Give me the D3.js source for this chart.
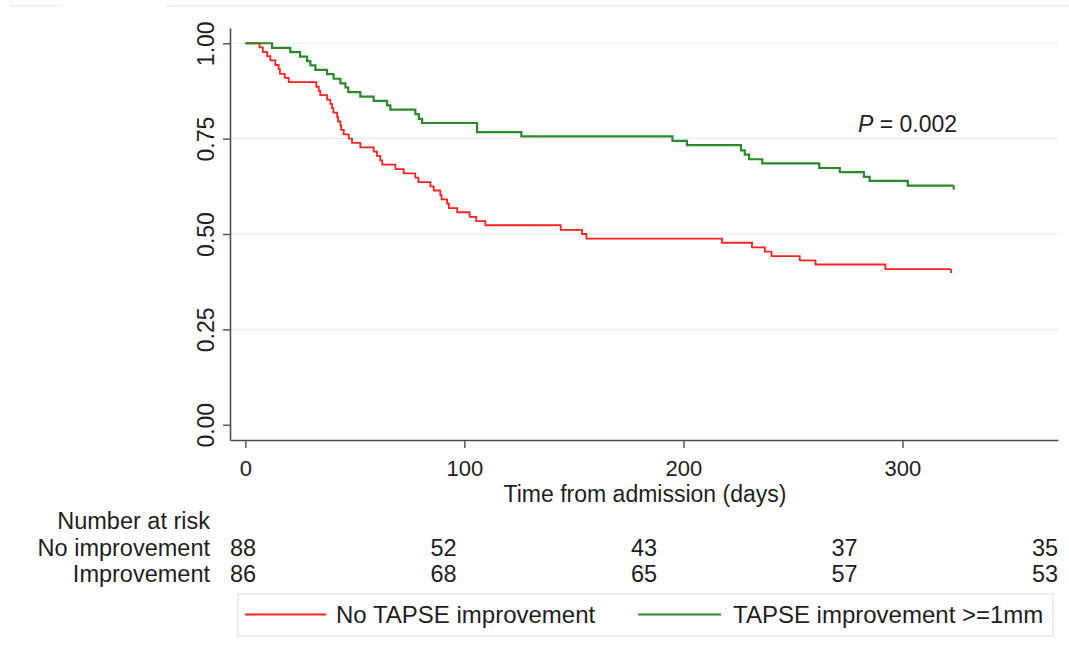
<!DOCTYPE html>
<html>
<head>
<meta charset="utf-8">
<script src="https://cdn.jsdelivr.net/npm/d3@7"></script>
<style>
  html, body { margin: 0; padding: 0; background: #fff; }
  svg { display: block; font-family: "Liberation Sans", Arial, sans-serif; }
</style>
</head>
<body>
<svg id="chart" width="1069" height="657"></svg>
<script>
// Kaplan-Meier step estimates: event times (days) and survival after each event
const noImpTime = [0, 6.5, 8, 10, 11.4, 13.7, 15.2, 15.8, 18, 19.8, 32.4, 33.5, 34.2, 37.3, 38.8, 39.6, 40.2,
  41.9, 42.3, 43.4, 43.8, 44.9, 47.2, 48.7, 52.5, 58.6, 60.1, 61.6, 62.5, 68.5, 72.3, 77.6, 79, 84.5, 86,
  89, 89.6, 92.1, 92.9, 96.7, 102.4, 105.4, 109.6, 144, 153.7, 155.7, 217.6, 231.3, 237.2, 240.2, 253.1,
  260.3, 292.2, 322.2];
const noImpSurv = [1, 0.989, 0.977, 0.966, 0.955, 0.943, 0.932, 0.920, 0.909, 0.898, 0.886, 0.875, 0.864,
  0.852, 0.841, 0.830, 0.818, 0.807, 0.795, 0.784, 0.773, 0.761, 0.750, 0.739, 0.727, 0.716, 0.705, 0.693,
  0.682, 0.670, 0.659, 0.648, 0.636, 0.625, 0.614, 0.602, 0.591, 0.580, 0.568, 0.557, 0.545, 0.534, 0.523,
  0.511, 0.500, 0.488, 0.477, 0.465, 0.454, 0.442, 0.431, 0.420, 0.408, 0.408];

const impTime = [0, 12.2, 20.5, 25, 28.2, 29.7, 32, 37.3, 40.3, 43.4, 45.7, 47, 52.5, 58.6, 64.7, 66.2,
  77.6, 79.2, 80.7, 105.8, 126, 195, 201.6, 226.3, 228, 230, 236, 262, 271.4, 282.4, 285, 302.4, 323.4];
const impSurv = [1, 0.988, 0.977, 0.965, 0.953, 0.942, 0.930, 0.919, 0.907, 0.895, 0.884, 0.872, 0.860,
  0.849, 0.837, 0.826, 0.814, 0.802, 0.791, 0.767, 0.756, 0.744, 0.733, 0.719, 0.708, 0.696, 0.685, 0.673,
  0.662, 0.650, 0.639, 0.627, 0.627];

// Number at risk table
const riskTimes = [0, 90, 180, 270, 360];
const riskNoImp = [88, 52, 43, 37, 35];
const riskImp = [86, 68, 65, 57, 53];
const riskRowLabels = ["No improvement", "Improvement"];

const xTicks = [0, 100, 200, 300];
const yTicks = [0, 0.25, 0.5, 0.75, 1];
const gridTicks = [0.25, 0.5, 0.75, 1];

const seriesNames = ["No TAPSE improvement", "TAPSE improvement >=1mm"];
const seriesColors = ["#ff2020", "#2a8a2a"];

const svg = d3.select("#chart");
const textColor = "#1e1e1e";
const axisColor = "#4d4d4d";
const fontFamily = "Liberation Sans, Arial, sans-serif";

const x = d3.scaleLinear().domain([-7, 371]).range([230, 1058]);
const y = d3.scaleLinear().domain([-0.04, 1.04]).range([440, 28]);

// faint frame lines along the top edge
svg.append("line").attr("x1", 10).attr("x2", 60).attr("y1", 6).attr("y2", 6)
  .attr("stroke", "#e9eff2").attr("stroke-width", 1.5);
svg.append("line").attr("x1", 166).attr("x2", 1069).attr("y1", 6).attr("y2", 6)
  .attr("stroke", "#e9eff2").attr("stroke-width", 1.5);

// horizontal grid
svg.append("g").selectAll("line").data(gridTicks).join("line")
  .attr("x1", x.range()[0]).attr("x2", x.range()[1])
  .attr("y1", d => y(d)).attr("y2", d => y(d))
  .attr("stroke", "#e6eef3").attr("stroke-width", 1.2);

// y axis
const yAxis = svg.append("g").attr("transform", `translate(${x.range()[0]},0)`)
  .call(d3.axisLeft(y).tickValues(yTicks).tickFormat(d3.format(".2f")).tickSize(7).tickSizeOuter(0).tickPadding(0));
yAxis.select(".domain").attr("stroke", axisColor).attr("stroke-width", 1.6);
yAxis.selectAll(".tick line").attr("stroke", axisColor).attr("stroke-width", 1.4);
yAxis.selectAll(".tick text")
  .attr("x", 0).attr("y", 0).attr("dy", null)
  .attr("transform", "translate(-16,0) rotate(-90)")
  .attr("text-anchor", "middle")
  .attr("font-size", 23).attr("fill", textColor)
  .attr("font-family", fontFamily);

// x axis
const xAxis = svg.append("g").attr("transform", `translate(0,${y.range()[0]})`)
  .call(d3.axisBottom(x).tickValues(xTicks).tickFormat(d3.format("d")).tickSize(8).tickSizeOuter(0).tickPadding(12));
xAxis.select(".domain").attr("stroke", axisColor).attr("stroke-width", 1.6);
xAxis.selectAll(".tick line").attr("stroke", axisColor).attr("stroke-width", 1.4);
xAxis.selectAll(".tick text").attr("font-size", 22).attr("fill", textColor)
  .attr("font-family", fontFamily);

svg.append("text").attr("x", 645).attr("y", 502).attr("text-anchor", "middle")
  .attr("font-size", 23).attr("fill", textColor).text("Time from admission (days)");

// survival curves
const line = d3.line().x(d => x(d[0])).y(d => y(d[1])).curve(d3.curveStepAfter);
const curves = [
  d3.zip(noImpTime, noImpSurv),
  d3.zip(impTime, impSurv)
];
curves.forEach((pts, i) => {
  svg.append("path").datum(pts).attr("d", line)
    .attr("fill", "none").attr("stroke", seriesColors[i])
    .attr("stroke-width", i === 0 ? 1.8 : 2.2);
  // censoring tick at the end of follow-up
  const last = pts[pts.length - 1];
  svg.append("line")
    .attr("x1", x(last[0])).attr("x2", x(last[0]))
    .attr("y1", y(last[1])).attr("y2", y(last[1]) + 4)
    .attr("stroke", seriesColors[i]).attr("stroke-width", i === 0 ? 1.8 : 2.2);
});

// p-value annotation
const pText = svg.append("text").attr("x", 858).attr("y", 132)
  .attr("font-size", 23).attr("fill", textColor);
pText.append("tspan").attr("font-style", "italic").text("P");
pText.append("tspan").text(" = 0.002");

// number at risk table
const riskX = d3.scalePoint().domain(riskTimes).range([243, 1045]);
svg.append("text").attr("x", 210).attr("y", 529).attr("text-anchor", "end")
  .attr("font-size", 23.5).attr("fill", textColor).text("Number at risk");
[riskNoImp, riskImp].forEach((row, r) => {
  const by = 556 + r * 26;
  svg.append("text").attr("x", 210).attr("y", by).attr("text-anchor", "end")
    .attr("font-size", 23.5).attr("fill", textColor).text(riskRowLabels[r]);
  svg.append("g").selectAll("text").data(row).join("text")
    .attr("x", (d, i) => riskX(riskTimes[i])).attr("y", by)
    .attr("text-anchor", "middle").attr("font-size", 23.5).attr("fill", textColor)
    .text(d => d);
});

// legend
const legend = svg.append("g");
legend.append("rect").attr("x", 238).attr("y", 594).attr("width", 815).attr("height", 42)
  .attr("fill", "#fff").attr("stroke", "#dcdcdc").attr("stroke-width", 1);
const legendItems = [
  { x1: 245, x2: 326, tx: 336 },
  { x1: 638, x2: 721, tx: 733 }
];
legendItems.forEach((it, i) => {
  legend.append("line").attr("x1", it.x1).attr("x2", it.x2).attr("y1", 614.5).attr("y2", 614.5)
    .attr("stroke", seriesColors[i]).attr("stroke-width", i === 0 ? 1.8 : 2.2);
  legend.append("text").attr("x", it.tx).attr("y", 623)
    .attr("font-size", 24).attr("fill", textColor).text(seriesNames[i]);
});
</script>
</body>
</html>
